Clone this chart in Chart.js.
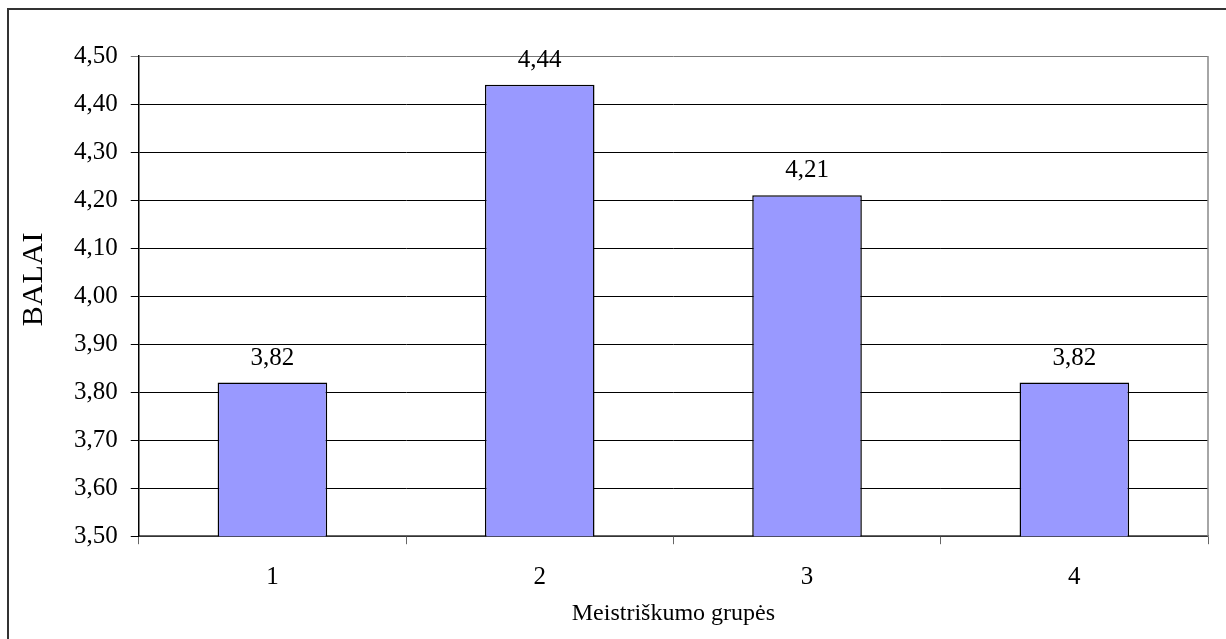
<!DOCTYPE html>
<html>
<head>
    <meta charset="utf-8">
    <title>Meistriškumo grupės</title>
    <script src="https://cdn.jsdelivr.net/npm/chart.js"></script>
    <style>
        html, body { margin: 0; padding: 0; background: #fff; }
        #wrap { width: 1226px; height: 639px; }
    </style>
</head>
<body>
    <div id="wrap"><canvas id="balaiChart" width="1226" height="639"></canvas></div>
    <script>
        // average score per skill group
        const groups = ['1', '2', '3', '4'];
        const scores = [3.82, 4.44, 4.21, 3.82];
        const yMin = 3.5;
        const yMax = 4.5;
        const yStep = 0.1;

        const fmt = v => v.toFixed(2).replace('.', ',');
        const serif = '"Liberation Serif", "Times New Roman", serif';

        // frame around the whole chart, grey right edge of the plot area,
        // and the y axis caption (a bit above centre)
        const framePlugin = {
            id: 'frame',
            afterDraw(chart) {
                const ctx = chart.ctx;
                const a = chart.chartArea;
                ctx.save();
                ctx.strokeStyle = '#333';
                ctx.lineWidth = 2;
                ctx.strokeRect(8, 9, 1240, 660);
                ctx.strokeStyle = '#888';
                ctx.lineWidth = 1.5;
                ctx.beginPath();
                ctx.moveTo(a.right, a.top);
                ctx.lineTo(a.right, a.bottom);
                ctx.stroke();

                ctx.translate(34, (a.top + a.bottom) / 2 - 17);
                ctx.rotate(-Math.PI / 2);
                ctx.font = '30px ' + serif;
                ctx.letterSpacing = '0.5px';
                ctx.fillStyle = '#000';
                ctx.textAlign = 'center';
                ctx.textBaseline = 'middle';
                ctx.fillText('BALAI', 0, 0);
                ctx.restore();
            }
        };

        // value printed above each bar
        const valueLabels = {
            id: 'valueLabels',
            afterDatasetsDraw(chart) {
                const ctx = chart.ctx;
                const meta = chart.getDatasetMeta(0);
                ctx.save();
                ctx.font = '25px ' + serif;
                ctx.fillStyle = '#000';
                ctx.textAlign = 'center';
                ctx.textBaseline = 'alphabetic';
                meta.data.forEach((bar, i) => {
                    ctx.fillText(fmt(scores[i]), bar.x, bar.y - 18);
                });
                ctx.restore();
            }
        };

        const ctx = document.getElementById('balaiChart').getContext('2d');
        const balaiChart = new Chart(ctx, {
            type: 'bar',
            data: {
                labels: groups,
                datasets: [{
                    data: scores,
                    backgroundColor: '#9999ff',
                    borderColor: '#000',
                    borderWidth: 1.5,
                    borderSkipped: false,
                    categoryPercentage: 1,
                    barPercentage: 0.41
                }]
            },
            options: {
                responsive: false,
                animation: false,
                layout: { padding: { left: 61, top: 56, right: 18, bottom: 10 } },
                plugins: {
                    legend: { display: false },
                    tooltip: { enabled: false }
                },
                scales: {
                    x: {
                        offset: true,
                        grid: {
                            offset: true,
                            drawOnChartArea: false,
                            color: '#666',
                            tickLength: 8
                        },
                        border: { color: '#666', width: 1.5 },
                        ticks: {
                            color: '#000',
                            font: { family: serif, size: 25 },
                            padding: 18
                        },
                        title: {
                            display: true,
                            text: 'Meistriškumo grupės',
                            color: '#000',
                            font: { family: serif, size: 24 },
                            // the tick padding is counted twice in the axis height, pull the title back up
                            padding: { top: -11, bottom: 1 }
                        }
                    },
                    y: {
                        min: yMin,
                        max: yMax,
                        grid: {
                            color: c => c.tick && c.tick.value >= yMax - 1e-9 ? '#777' : '#000',
                            lineWidth: 1,
                            tickLength: 8
                        },
                        border: { color: '#000', width: 1.5 },
                        ticks: {
                            stepSize: yStep,
                            color: '#000',
                            font: { family: serif, size: 25 },
                            padding: 13,
                            callback: v => fmt(v)
                        }
                    }
                }
            },
            plugins: [framePlugin, valueLabels]
        });
    </script>
</body>
</html>
